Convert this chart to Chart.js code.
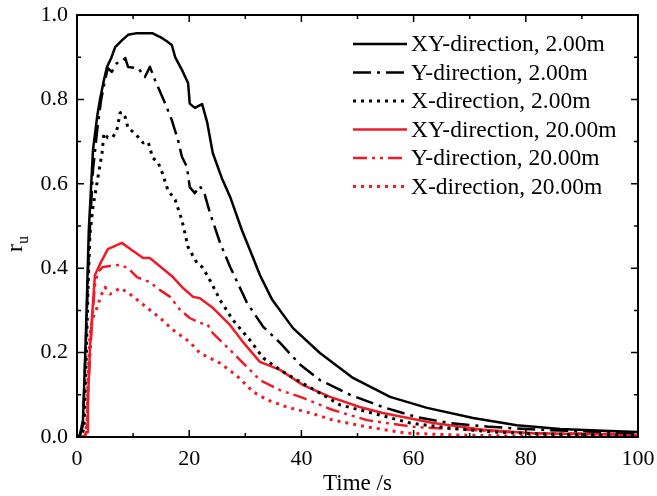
<!DOCTYPE html>
<html>
<head>
<meta charset="utf-8">
<script src="https://cdn.jsdelivr.net/npm/chart.js@4"></script>
<style>
  html, body { margin: 0; padding: 0; background: #fff; }
</style>
</head>
<body>
<canvas id="chart" width="657" height="496"></canvas>
<script>
// series labels and tick labels
const seriesNames = [
  'XY-direction, 2.00m', 'Y-direction, 2.00m', 'X-direction, 2.00m',
  'XY-direction, 20.00m', 'Y-direction, 20.00m', 'X-direction, 20.00m'
];
const xTicks = [0, 20, 40, 60, 80, 100];
const yTicks = [0, 0.2, 0.4, 0.6, 0.8, 1.0];

// XY-direction, 2.00m
const tXY2 = [0, 0.5, 1.07, 1.6, 2.1, 2.85, 3.6, 4.1, 4.8, 5.35, 6.1, 6.8, 8.0, 9.1, 10.7, 13.4, 15.2, 16.2, 16.9, 17.5, 18.7, 19.8, 20.1, 21.0, 22.3, 23.2, 24.2, 25.8, 27.3, 29.4, 31.4, 32.6, 34.8, 38.5, 43.3, 49.2, 55.8, 62.4, 70.6, 78.4, 86.1, 95.0, 100];
const ruXY2 = [0, 0.005, 0.04, 0.25, 0.49, 0.68, 0.76, 0.80, 0.846, 0.877, 0.898, 0.924, 0.94, 0.953, 0.957, 0.957, 0.945, 0.936, 0.929, 0.90, 0.87, 0.839, 0.79, 0.78, 0.789, 0.746, 0.673, 0.614, 0.569, 0.49, 0.424, 0.384, 0.325, 0.258, 0.199, 0.14, 0.095, 0.069, 0.045, 0.028, 0.019, 0.014, 0.012];

// Y-direction, 2.00m
const tY2 = [0, 0.5, 1.07, 1.6, 2.1, 2.85, 3.6, 4.3, 5.0, 5.5, 6.2, 7.1, 8.0, 8.6, 9.1, 10.9, 12.1, 13.0, 13.9, 15.7, 16.9, 18.0, 18.7, 19.6, 20.1, 21.0, 21.9, 22.8, 23.7, 25.5, 27.3, 30.3, 33.2, 36.2, 39.8, 43.3, 48.7, 54.5, 60.6, 66.5, 73.6, 82.5, 93.2, 100];
const ruY2 = [0, 0.002, 0.028, 0.23, 0.443, 0.633, 0.727, 0.799, 0.846, 0.874, 0.865, 0.886, 0.889, 0.898, 0.877, 0.874, 0.853, 0.877, 0.846, 0.791, 0.751, 0.704, 0.664, 0.64, 0.592, 0.578, 0.595, 0.573, 0.531, 0.46, 0.403, 0.318, 0.261, 0.223, 0.171, 0.135, 0.10, 0.071, 0.047, 0.033, 0.024, 0.017, 0.012, 0.009];

// X-direction, 2.00m
const tX2 = [0, 0.7, 1.25, 1.6, 1.96, 2.3, 2.85, 3.74, 4.46, 4.8, 5.5, 6.4, 7.1, 7.7, 8.0, 8.6, 9.1, 10.0, 10.9, 11.8, 12.7, 13.5, 14.4, 15.2, 16.2, 17.5, 18.7, 19.8, 21.4, 22.3, 23.4, 25.5, 27.8, 30.8, 33.2, 36.2, 39.2, 43.3, 46.9, 54.0, 59.4, 66.5, 74.2, 82.5, 93.2, 100];
const ruX2 = [0, 0.002, 0.02, 0.16, 0.348, 0.479, 0.545, 0.616, 0.673, 0.72, 0.709, 0.711, 0.727, 0.768, 0.77, 0.758, 0.732, 0.723, 0.711, 0.697, 0.699, 0.661, 0.652, 0.626, 0.585, 0.562, 0.514, 0.45, 0.412, 0.403, 0.379, 0.325, 0.277, 0.23, 0.187, 0.159, 0.135, 0.104, 0.076, 0.052, 0.033, 0.021, 0.012, 0.007, 0.005, 0.005];

// XY-direction, 20.00m
const tXY20 = [0, 1.25, 1.8, 1.96, 2.3, 2.7, 3.2, 4.3, 5.5, 6.8, 8.0, 10.0, 11.8, 13.0, 15.2, 17.1, 18.9, 20.7, 21.9, 24.2, 27.3, 29.9, 32.6, 36.2, 40.3, 45.1, 50.4, 54.5, 63.5, 72.4, 81.3, 89.7, 100];
const ruXY20 = [0, 0.002, 0.012, 0.088, 0.206, 0.289, 0.384, 0.415, 0.445, 0.453, 0.46, 0.441, 0.424, 0.424, 0.40, 0.379, 0.353, 0.332, 0.329, 0.306, 0.265, 0.22, 0.178, 0.159, 0.123, 0.095, 0.071, 0.057, 0.033, 0.017, 0.009, 0.007, 0.005];

// Y-direction, 20.00m
const tY20 = [0, 1.43, 1.8, 2.1, 2.7, 3.2, 3.74, 4.6, 5.9, 7.7, 9.1, 10.7, 13.0, 14.8, 16.6, 18.4, 20.1, 21.9, 23.2, 24.2, 27.3, 30.3, 32.6, 36.2, 39.8, 45.6, 51.7, 59.9, 69.5, 81.3, 100];
const ruY20 = [0, 0, 0.028, 0.135, 0.277, 0.36, 0.391, 0.403, 0.405, 0.408, 0.40, 0.379, 0.367, 0.348, 0.332, 0.301, 0.282, 0.27, 0.268, 0.246, 0.206, 0.166, 0.135, 0.111, 0.095, 0.064, 0.04, 0.024, 0.017, 0.009, 0.007];

// X-direction, 20.00m
const tX20 = [0, 1.43, 1.8, 1.96, 2.3, 2.85, 3.56, 4.3, 5.0, 5.9, 6.8, 7.7, 9.4, 11.2, 13.0, 14.8, 17.1, 20.1, 21.9, 25.5, 28.5, 31.4, 33.9, 37.4, 42.1, 45.6, 51.7, 58.8, 67.0, 79.0, 100];
const ruX20 = [0, 0, 0.04, 0.135, 0.242, 0.282, 0.306, 0.336, 0.355, 0.339, 0.346, 0.353, 0.339, 0.32, 0.301, 0.282, 0.254, 0.225, 0.199, 0.175, 0.145, 0.107, 0.088, 0.071, 0.055, 0.04, 0.024, 0.009, 0.005, 0.002, 0.002];

const RED = '#ee1c25';
const FONT = 'Liberation Serif';

function pts(t, v) {
  return t.map((x, i) => ({ x: x, y: v[i] }));
}

// frame, inward ticks, axis titles and the legend
const decor = {
  id: 'decor',
  afterDraw(chart) {
    const ctx = chart.ctx;
    const a = chart.chartArea;
    const xs = chart.scales.x, ys = chart.scales.y;
    ctx.save();
    ctx.strokeStyle = '#000';
    ctx.lineWidth = 2;
    ctx.setLineDash([]);
    ctx.strokeRect(a.left, a.top, a.right - a.left, a.bottom - a.top);

    ctx.lineWidth = 1.5;
    ctx.beginPath();
    for (let v = 0; v <= 100; v += 10) {
      const px = xs.getPixelForValue(v);
      const len = v % 20 === 0 ? 7 : 4;
      ctx.moveTo(px, a.bottom); ctx.lineTo(px, a.bottom - len);
      ctx.moveTo(px, a.top); ctx.lineTo(px, a.top + len);
    }
    for (let i = 0; i <= 10; i++) {
      const py = ys.getPixelForValue(i / 10);
      const len = i % 2 === 0 ? 7 : 4;
      ctx.moveTo(a.left, py); ctx.lineTo(a.left + len, py);
      ctx.moveTo(a.right, py); ctx.lineTo(a.right - len, py);
    }
    ctx.stroke();

    // axis titles
    ctx.fillStyle = '#000';
    ctx.font = '23px "' + FONT + '"';
    ctx.textAlign = 'center';
    ctx.textBaseline = 'middle';
    ctx.fillText('Time /s', (a.left + a.right) / 2, 484);

    ctx.save();
    ctx.translate(22, 252);
    ctx.rotate(-Math.PI / 2);
    ctx.textAlign = 'left';
    ctx.textBaseline = 'alphabetic';
    ctx.font = '24px "' + FONT + '"';
    ctx.fillText('r', 0, 0);
    const rw = ctx.measureText('r').width;
    ctx.font = '16px "' + FONT + '"';
    ctx.fillText('u', rw, 6);
    ctx.restore();

    // legend
    chart.data.datasets.forEach((ds, i) => {
      const y = 44 + i * 28.5;
      ctx.strokeStyle = ds.borderColor;
      ctx.lineWidth = ds.borderWidth;
      ctx.setLineDash(ds.borderDash || []);
      ctx.beginPath();
      ctx.moveTo(353, y); ctx.lineTo(407, y);
      ctx.stroke();
      ctx.setLineDash([]);
      ctx.fillStyle = '#000';
      ctx.font = '23.5px "' + FONT + '"';
      ctx.textAlign = 'left';
      ctx.textBaseline = 'middle';
      ctx.fillText(ds.label, 411, y + 1);
    });
    ctx.restore();
  }
};

const ctx = document.getElementById('chart').getContext('2d');
new Chart(ctx, {
  type: 'line',
  data: {
    datasets: [
      { label: seriesNames[0], data: pts(tXY2, ruXY2), borderColor: '#000', borderWidth: 2.5, borderDash: [] },
      { label: seriesNames[1], data: pts(tY2, ruY2), borderColor: '#000', borderWidth: 2.5, borderDash: [18, 6, 3, 6] },
      { label: seriesNames[2], data: pts(tX2, ruX2), borderColor: '#000', borderWidth: 3, borderDash: [3, 5] },
      { label: seriesNames[3], data: pts(tXY20, ruXY20), borderColor: RED, borderWidth: 2.5, borderDash: [] },
      { label: seriesNames[4], data: pts(tY20, ruY20), borderColor: RED, borderWidth: 2.5, borderDash: [14, 5, 3, 5, 3, 5] },
      { label: seriesNames[5], data: pts(tX20, ruX20), borderColor: RED, borderWidth: 3, borderDash: [3, 5] }
    ]
  },
  options: {
    responsive: false,
    animation: false,
    layout: { padding: { left: 0, right: 19, top: 15, bottom: 0 } },
    plugins: { legend: { display: false }, tooltip: { enabled: false } },
    elements: {
      point: { radius: 0 },
      line: { tension: 0, fill: false, borderCapStyle: 'butt', borderJoinStyle: 'round' }
    },
    scales: {
      x: {
        type: 'linear', min: 0, max: 100,
        afterFit(s) { s.height = 59; s.paddingLeft = 0; s.paddingRight = 0; },
        afterBuildTicks(s) { s.ticks = xTicks.map(v => ({ value: v })); },
        grid: { display: false, drawTicks: false },
        border: { display: false },
        ticks: { padding: 9, color: '#000', maxRotation: 0, font: { family: FONT, size: 22 } }
      },
      y: {
        type: 'linear', min: 0, max: 1,
        afterFit(s) { s.width = 77; s.paddingTop = 0; s.paddingBottom = 0; },
        afterBuildTicks(s) { s.ticks = yTicks.map(v => ({ value: v })); },
        grid: { display: false, drawTicks: false },
        border: { display: false },
        ticks: { padding: 9, color: '#000', font: { family: FONT, size: 22 }, callback: v => v.toFixed(1) }
      }
    }
  },
  plugins: [decor]
});
</script>
</body>
</html>
